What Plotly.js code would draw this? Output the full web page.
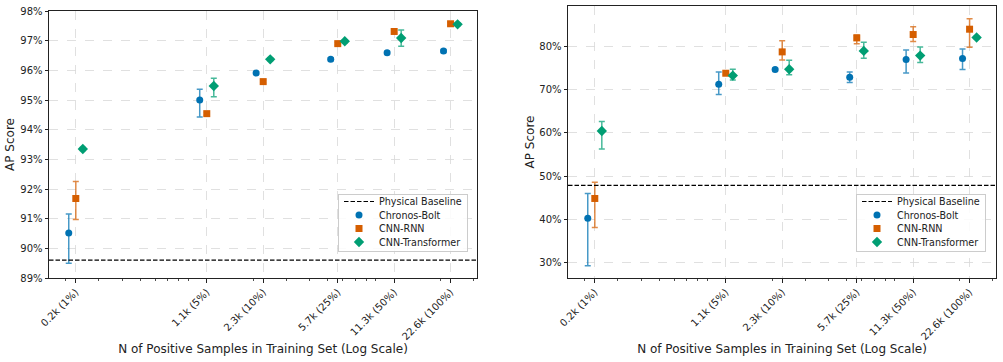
<!DOCTYPE html>
<html>
<head>
<meta charset="utf-8">
<script src="https://cdn.plot.ly/plotly-3.0.1.min.js"></script>
<style>
  html, body { margin: 0; padding: 0; background: #fff; }
  #chart { width: 1003px; height: 362px; }
</style>
</head>
<body>
<div id="chart"></div>
<script>
// Number of positive training samples for each subset size
const samples = [226, 1130, 2260, 5650, 11300, 22600];
const tickLabels = ['0.2k (1%)', '1.1k (5%)', '2.3k (10%)', '5.7k (25%)', '11.3k (50%)', '22.6k (100%)'];
const modelNames = ['Chronos-Bolt', 'CNN-RNN', 'CNN-Transformer'];

// Panel A: AP score (%) with upper / lower error
const chronosA = [90.52, 95.00, 95.91, 96.37, 96.59, 96.65];
const chronosAUp = [0.64, 0.36, 0.05, 0.05, 0.05, 0.05];
const chronosADown = [1.02, 0.57, 0.05, 0.05, 0.05, 0.05];
const rnnA = [91.68, 94.54, 95.62, 96.90, 97.31, 97.57];
const rnnAUp = [0.57, 0.05, 0.05, 0.05, 0.05, 0.05];
const rnnADown = [0.71, 0.05, 0.05, 0.05, 0.05, 0.05];
const transA = [93.35, 95.47, 96.37, 96.98, 97.09, 97.55];
const transAUp = [0.05, 0.26, 0.05, 0.05, 0.27, 0.05];
const transADown = [0.05, 0.36, 0.05, 0.05, 0.28, 0.05];
const baselineA = 89.6;

// Panel B: AP score (%) with upper / lower error
const chronosB = [40.2, 71.32, 74.73, 72.95, 77.05, 77.29];
const chronosBUp = [5.74, 2.87, 0.3, 1.24, 2.25, 2.24];
const chronosBDown = [11.04, 2.41, 0.3, 1.24, 3.1, 2.56];
const rnnB = [44.78, 73.88, 78.84, 82.09, 82.87, 84.11];
const rnnBUp = [3.78, 0.3, 2.56, 0.7, 1.78, 2.4];
const rnnBDown = [6.73, 0.3, 1.86, 1.39, 1.63, 4.19];
const transB = [60.47, 73.33, 74.81, 79.07, 77.98, 82.17];
const transBUp = [2.17, 1.48, 2.1, 2.02, 2.02, 0.3];
const transBDown = [4.19, 1.0, 1.31, 1.71, 1.62, 0.3];
const baselineB = 47.8;

// Minor log ticks (2..9 within each decade)
const minorTicks = [200, 300, 400, 500, 600, 700, 800, 900,
  2000, 3000, 4000, 5000, 6000, 7000, 8000, 9000, 20000, 30000];

const colors = ['#0072B2', '#D55E00', '#009E73'];
const errColors = ['rgba(0,114,178,0.72)', 'rgba(213,94,0,0.72)', 'rgba(0,158,115,0.72)'];
const symbols = ['circle', 'square', 'diamond'];
const sizes = [7, 7, 8];
// multiplicative horizontal dodge so the three models don't overlap
const dodge = [0.917, 1, 1.09];

function makeTraces(series, xa, ya, legendId) {
  return series.map((s, i) => ({
    type: 'scatter',
    mode: 'markers',
    name: modelNames[i],
    x: samples.map(v => v * dodge[i]),
    y: s.y,
    xaxis: xa,
    yaxis: ya,
    legend: legendId,
    legendrank: i + 2,
    marker: { color: colors[i], symbol: symbols[i], size: sizes[i], line: { width: 0 } },
    error_y: {
      type: 'data', symmetric: false,
      array: s.up, arrayminus: s.down,
      color: errColors[i], thickness: 1.5, width: 3
    },
    hoverinfo: 'x+y+name'
  }));
}

const traces = [
  ...makeTraces([
    { y: chronosA, up: chronosAUp, down: chronosADown },
    { y: rnnA, up: rnnAUp, down: rnnADown },
    { y: transA, up: transAUp, down: transADown }
  ], 'x', 'y', 'legend'),
  ...makeTraces([
    { y: chronosB, up: chronosBUp, down: chronosBDown },
    { y: rnnB, up: rnnBUp, down: rnnBDown },
    { y: transB, up: transBUp, down: transBDown }
  ], 'x2', 'y2', 'legend2')
];

const tickFont = { family: 'DejaVu Sans, sans-serif', size: 10, color: '#222' };
const titleFont = { family: 'DejaVu Sans, sans-serif', size: 12, color: '#222' };
const xRange = [Math.log10(samples[0]) - 0.143, Math.log10(samples[samples.length - 1]) + 0.141];

function xAxis(domain, anchor) {
  return {
    type: 'log', domain: domain, anchor: anchor, range: xRange,
    tickmode: 'array', tickvals: samples, ticktext: tickLabels, tickangle: -45,
    ticks: 'outside', ticklen: 3.5, tickwidth: 1, tickcolor: '#222',
    showline: true, linecolor: '#222', linewidth: 1, mirror: true,
    showgrid: true, gridcolor: '#d8d8d8', gridwidth: 0.8, griddash: 'dash',
    zeroline: false, tickfont: tickFont,
    minor: { tickmode: 'array', tickvals: minorTicks, ticks: 'outside', ticklen: 2,
             tickwidth: 0.8, tickcolor: '#222', showgrid: false },
    title: { text: 'N of Positive Samples in Training Set (Log Scale)', font: titleFont, standoff: 2 },
    automargin: false
  };
}

function yAxis(domain, anchor, range, dtick, standoff) {
  return {
    domain: domain, anchor: anchor, range: range, dtick: dtick, tick0: 0,
    ticksuffix: '%', ticks: 'outside', ticklen: 3.5, tickwidth: 1, tickcolor: '#222',
    showline: true, linecolor: '#222', linewidth: 1, mirror: true,
    showgrid: true, gridcolor: '#d8d8d8', gridwidth: 0.8, griddash: 'dash',
    zeroline: false, tickfont: tickFont,
    title: { text: 'AP Score', font: titleFont, standoff: standoff },
    automargin: false
  };
}

const H = 362, W = 1003;
const legendStyle = {
  bgcolor: 'rgba(255,255,255,0.85)', bordercolor: '#cccccc', borderwidth: 1,
  font: { family: 'DejaVu Sans, sans-serif', size: 9.6, color: '#222' },
  xanchor: 'right', yanchor: 'bottom', tracegroupgap: 0, itemwidth: 30
};
const baselineLine = { color: '#000', width: 1.2, dash: '4.5px,2px' };

const layout = {
  width: W, height: H,
  margin: { l: 0, r: 0, t: 0, b: 0 },
  paper_bgcolor: '#fff', plot_bgcolor: '#fff',
  showlegend: true,
  xaxis: xAxis([49 / W, 477 / W], 'y'),
  yaxis: yAxis([84 / H, 351 / H], 'x', [89, 98], 1, 3),
  xaxis2: xAxis([568 / W, 996 / W], 'y2'),
  yaxis2: yAxis([84 / H, 356 / H], 'x2', [26.3, 89.5], 10, 2),
  legend: Object.assign({ x: 468 / W, y: 110 / H }, legendStyle),
  legend2: Object.assign({ x: 986 / W, y: 110 / H }, legendStyle),
  shapes: [
    { type: 'line', xref: 'x domain', yref: 'y', x0: 0, x1: 1, y0: baselineA, y1: baselineA,
      line: baselineLine, showlegend: true, name: 'Physical Baseline', legend: 'legend', legendrank: 1 },
    { type: 'line', xref: 'x2 domain', yref: 'y2', x0: 0, x1: 1, y0: baselineB, y1: baselineB,
      line: baselineLine, showlegend: true, name: 'Physical Baseline', legend: 'legend2', legendrank: 1 }
  ]
};

// Tighten legend rows (Plotly enforces a tall minimum row height), keeping the bottom edge fixed
function compactLegend(id, step, pad) {
  const g = document.querySelector('g.' + id);
  if (!g) return;
  const items = Array.from(g.querySelectorAll('g.traces'));
  if (!items.length) return;
  const parse = el => {
    const m = /translate\(\s*([-\d.]+)[ ,]+([-\d.]+)\s*\)/.exec(el.getAttribute('transform') || '');
    return m ? [parseFloat(m[1]), parseFloat(m[2])] : [0, 0];
  };
  items.forEach((el, i) => {
    const p = parse(el);
    el.setAttribute('transform', 'translate(' + p[0] + ',' + (pad + i * step) + ')');
  });
  const bg = g.querySelector('rect.bg');
  const oldH = parseFloat(bg.getAttribute('height'));
  const newH = 2 * pad + (items.length - 1) * step + 1;
  bg.setAttribute('height', newH);
  const gp = parse(g);
  g.setAttribute('transform', 'translate(' + gp[0] + ',' + (gp[1] + oldH - newH) + ')');
}

Plotly.newPlot('chart', traces, layout, { displayModeBar: false, staticPlot: true })
  .then(() => { compactLegend('legend', 13.5, 8); compactLegend('legend2', 13.5, 8); });
</script>
</body>
</html>
